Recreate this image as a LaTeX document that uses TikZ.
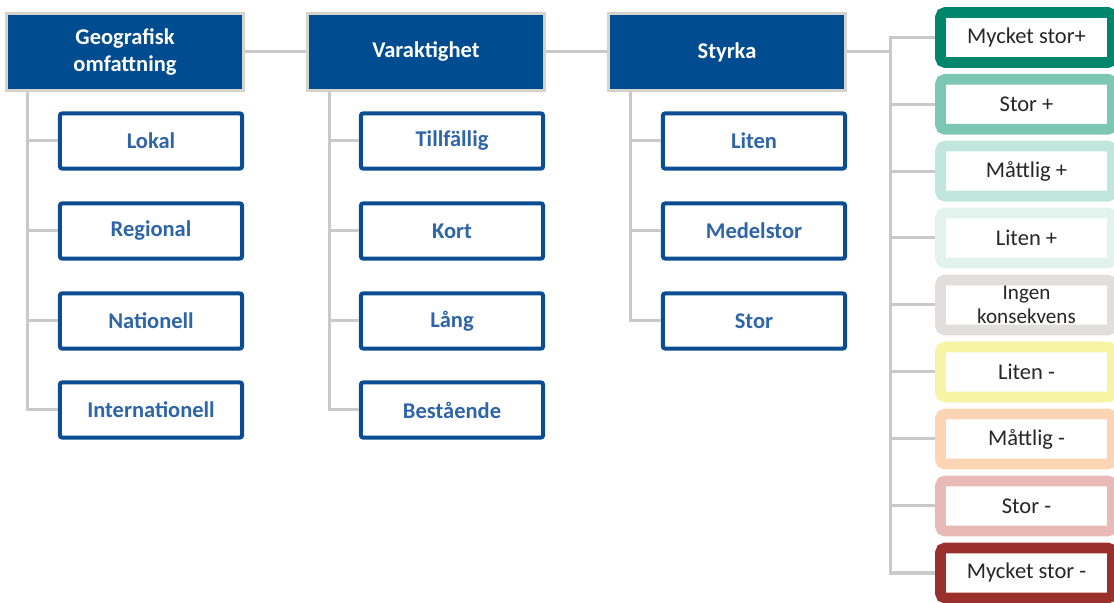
\documentclass[tikz,border=0pt]{standalone}
\usepackage{fontspec}
\setmainfont{Carlito}
\usepackage{xcolor}
\usepackage{tikz}

\definecolor{hdblue}{HTML}{004C91}
\definecolor{hdframe}{HTML}{D6D2CC}
\definecolor{itframe}{HTML}{0A4D92}
\definecolor{ittext}{HTML}{2E65A9}
\definecolor{treegray}{HTML}{C9C9C9}
\definecolor{lvtext}{HTML}{262626}
\definecolor{lvA}{HTML}{00866A}
\definecolor{lvB}{HTML}{7CC7B4}
\definecolor{lvC}{HTML}{C1E6DB}
\definecolor{lvD}{HTML}{E2F3EE}
\definecolor{lvE}{HTML}{E0DFDE}
\definecolor{lvF}{HTML}{F7F5A5}
\definecolor{lvG}{HTML}{FBD4B4}
\definecolor{lvH}{HTML}{E8B9B7}
\definecolor{lvI}{HTML}{9A302C}

\begin{document}
\begin{tikzpicture}[
  x=0.025cm, y=-0.025cm,
  head/.style={draw=hdframe, line width=0.075cm, fill=hdblue, text=white, align=center,
    font=\fontsize{16}{19}\selectfont\bfseries, minimum width=5.925cm, minimum height=1.925cm, inner sep=0pt},
  item/.style={draw=itframe, line width=0.1cm, rounded corners=0.05cm, fill=white, text=ittext,
    font=\fontsize{16}{19}\selectfont\bfseries, minimum width=4.55cm, minimum height=1.375cm, inner sep=0pt},
  level/.style={draw=#1, line width=0.27cm, rounded corners=0.12cm, fill=white, text=lvtext, align=center,
    font=\fontsize{16}{19}\selectfont, minimum width=4.3cm, minimum height=1.25cm, inner sep=0pt},
  tree/.style={draw=treegray, line width=0.075cm}
]
\useasboundingbox (0,0) rectangle (1114,603);
\clip (0,0) rectangle (1114,603);

% headers
\node[head] (geo) at (125,52) {Geografisk\\omfattning};
\node[head] (var) at (426,52) {Varaktighet};
\node[head] (sty) at (727,52) {Styrka};

% geographic extent
\node[item] (lok) at (151,141) {Lokal};
\node[item] (reg) at (151,231) {Regional};
\node[item] (nat) at (151,321) {Nationell};
\node[item] (int) at (151,410) {Internationell};

% duration
\node[item] (til) at (452,141) {Tillfällig};
\node[item] (kor) at (452,231) {Kort};
\node[item] (lan) at (452,321) {Lång};
\node[item] (bes) at (452,410) {Bestående};

% strength
\node[item] (lit) at (754,141) {Liten};
\node[item] (med) at (754,231) {Medelstor};
\node[item] (sto) at (754,321) {Stor};

% consequence scale
\node[level=lvA] (r1) at (1026.5,37.5) {Mycket stor+};
\node[level=lvB] (r2) at (1026.5,104.3) {Stor +};
\node[level=lvC] (r3) at (1026.5,171.1) {Måttlig +};
\node[level=lvD] (r4) at (1026.5,238) {Liten +};
\node[level=lvE, font=\fontsize{15}{17.5}\selectfont] (r5) at (1026.5,305) {Ingen\\konsekvens};
\node[level=lvF] (r6) at (1026.5,372) {Liten -};
\node[level=lvG] (r7) at (1026.5,439) {Måttlig -};
\node[level=lvH] (r8) at (1026.5,506) {Stor -};
\node[level=lvI] (r9) at (1026.5,573) {Mycket stor -};

% connectors
\draw[tree] (geo) -- (var);
\draw[tree] (var) -- (sty);

\coordinate (geot) at ([xshift=0.575cm]geo.south west);
\coordinate (vart) at ([xshift=0.6cm]var.south west);
\coordinate (styt) at ([xshift=0.6cm]sty.south west);
\draw[tree] (geot) |- (lok.west);
\draw[tree] (geot) |- (reg.west);
\draw[tree] (geot) |- (nat.west);
\draw[tree] (geot) |- (int.west);
\draw[tree] (vart) |- (til.west);
\draw[tree] (vart) |- (kor.west);
\draw[tree] (vart) |- (lan.west);
\draw[tree] (vart) |- (bes.west);
\draw[tree] (styt) |- (lit.west);
\draw[tree] (styt) |- (med.west);
\draw[tree] (styt) |- (sto.west);

\coordinate (rt) at (890,52);
\draw[tree] (sty) -- (rt);
\draw[tree] (r1.west) -- (r1.west -| rt) -- (r9.west -| rt) -- (r9.west);
\draw[tree] (r2.west) -- (r2.west -| rt);
\draw[tree] (r3.west) -- (r3.west -| rt);
\draw[tree] (r4.west) -- (r4.west -| rt);
\draw[tree] (r5.west) -- (r5.west -| rt);
\draw[tree] (r6.west) -- (r6.west -| rt);
\draw[tree] (r7.west) -- (r7.west -| rt);
\draw[tree] (r8.west) -- (r8.west -| rt);
\end{tikzpicture}
\end{document}
